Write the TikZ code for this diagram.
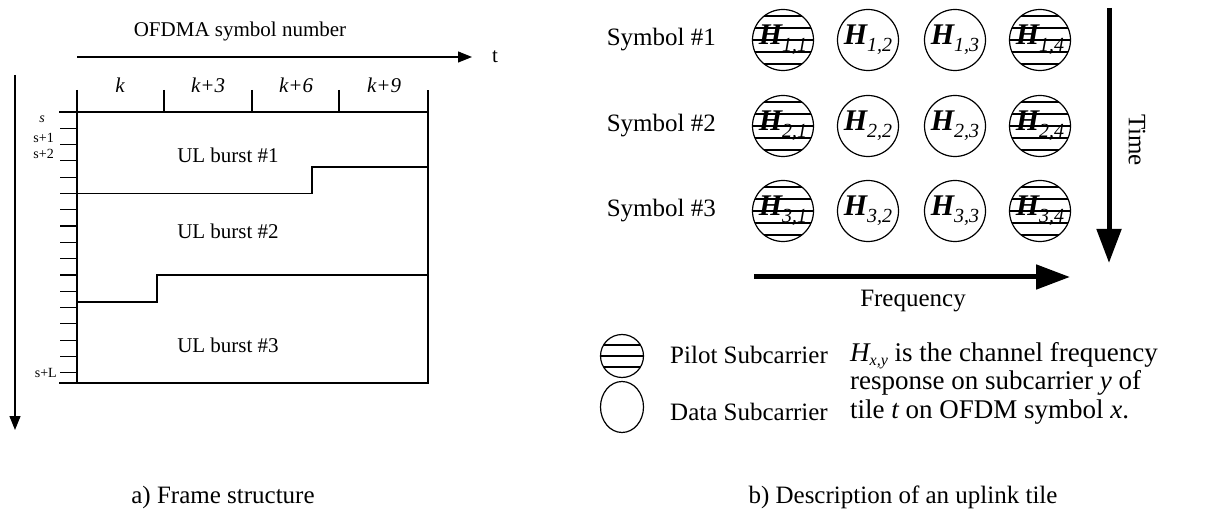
\documentclass[tikz,border=0pt]{standalone}
\usepackage{fontspec}
\setmainfont{Liberation Serif}
\usetikzlibrary{arrows.meta}
\usetikzlibrary{positioning}
\usetikzlibrary{shapes.geometric}

\tikzset{
  frame/.style={line width=1.2pt},
  thin arrow/.style={line width=1.2pt, -{Triangle[length=14pt,width=11pt]}},
  thick arrow/.style={line width=5pt, -{Triangle[length=34pt,width=24pt]}},
  txt/.style={font=\fontsize{21}{24}\selectfont, inner sep=0pt},
  big/.style={font=\fontsize{25}{28.5}\selectfont, inner sep=0pt},
  small/.style={font=\fontsize{14}{16}\selectfont, inner sep=0pt},
  sub/.style={circle, draw, line width=1.2pt, minimum size=61pt, inner sep=0pt},
}

\newcommand{\hlab}[2]{{\fontsize{30}{30}\selectfont\bfseries\itshape H}\raisebox{-7pt}{\fontsize{20}{20}\selectfont\itshape #1,#2}}

\begin{document}
\begin{tikzpicture}[x=1pt,y=-1pt]
  \useasboundingbox (0,0) rectangle (1207,518);

  \node[txt] (ofdma) at (240,31) {OFDMA symbol number};
  \coordinate (tstart) at (77,57);
  \coordinate (tend) at (472,57);
  \draw[thin arrow] (tstart) -- (tend);
  \node[txt, right=20pt of tend] (t) {t};
  \coordinate (sstart) at (15,75);
  \coordinate (send) at (15,430);
  \draw[thin arrow] (sstart) -- (send);

  \draw[frame] (77,90) -- (77,383) -- (428,383) -- (428,90);
  \draw[frame] (59,112) -- (428,112);
  \draw[frame] (59,383) -- (77,383);
  \foreach \x in {164,252,339}
    \draw[frame] (\x,90) -- (\x,112);
  \foreach \i in {1,...,16}
    \draw[frame] (60,112+16.3*\i) -- (77,112+16.3*\i);
  \foreach \x/\l [count=\n] in {120/k, 208/k+3, 296/k+6, 384/k+9}
    \node[txt] (col\n) at (\x,85) {\itshape \l};

  \node[small] (s0) at (42,119) {\itshape s};
  \node[small, anchor=east] (s1) at (54,138) {s+1};
  \node[small, anchor=east] (s2) at (54,154) {s+2};
  \node[small, anchor=east] (sL) at (57,373) {s+L};

  \draw[frame] (77,193.7) -- (312,193.7) -- (312,167) -- (428,167);
  \draw[frame] (77,302) -- (157,302) -- (157,275) -- (428,275);
  \node[txt] (burst1) at (228,155) {UL burst \#1};
  \node[txt] (burst2) at (228,231) {UL burst \#2};
  \node[txt] (burst3) at (228,345) {UL burst \#3};

  \node[big] (capa) at (223,497) {a) Frame structure};

  \foreach \r/\yy in {1/40, 2/126, 3/211} {
    \node[big, anchor=east] (sym\r) at (716,\yy) {Symbol \#\r};
    \foreach \c/\xx in {1/783, 2/868, 3/955, 4/1040}
      \node[sub] (h\r\c) at (\xx,\yy) {\hlab{\r}{\c}};
  }
  \foreach \yy in {40, 126, 211}
    \foreach \xx in {783, 1040} {
      \begin{scope}
        \clip (\xx,\yy) circle (30.5pt);
        \foreach \d in {-24,-12,0,12,24}
          \draw[frame] (\xx-35,\yy+\d) -- (\xx+35,\yy+\d);
      \end{scope}
    }

  \coordinate (ttop) at (1109,8);
  \coordinate (tbot) at (1109,263);
  \draw[thick arrow] (ttop) -- (tbot);
  \node[big, rotate=-90] (time) at (1137,140) {Time};
  \coordinate (fleft) at (754,277);
  \coordinate (fright) at (1070,277);
  \draw[thick arrow] (fleft) -- (fright);
  \node[big] (freq) at (913,301) {Frequency};

  \node[circle, draw, line width=1.2pt, minimum size=43pt, inner sep=0pt] (pilot) at (622,356) {};
  \begin{scope}
    \clip (622,356) circle (21.5pt);
    \foreach \d in {-11,0,11}
      \draw[frame] (600,356+\d) -- (644,356+\d);
  \end{scope}
  \node[ellipse, draw, line width=1.2pt, minimum width=43pt, minimum height=51pt, inner sep=0pt] (data) at (622,407) {};
  \node[big, anchor=west] (pilottxt) at (670,355) {Pilot Subcarrier};
  \node[big, anchor=west] (datatxt) at (670,412) {Data Subcarrier};
  \node[anchor=west, align=left, inner sep=0pt, font=\fontsize{27}{28.5}\selectfont] (desc) at (850,383)
    {{\itshape H}\raisebox{-4pt}{\fontsize{16}{16}\selectfont\itshape x,y} is the channel frequency\\
     response on subcarrier {\itshape y} of\\
     tile {\itshape t} on OFDM symbol {\itshape x}.};

  \node[big] (capb) at (903,497) {b) Description of an uplink tile};
\end{tikzpicture}
\end{document}
